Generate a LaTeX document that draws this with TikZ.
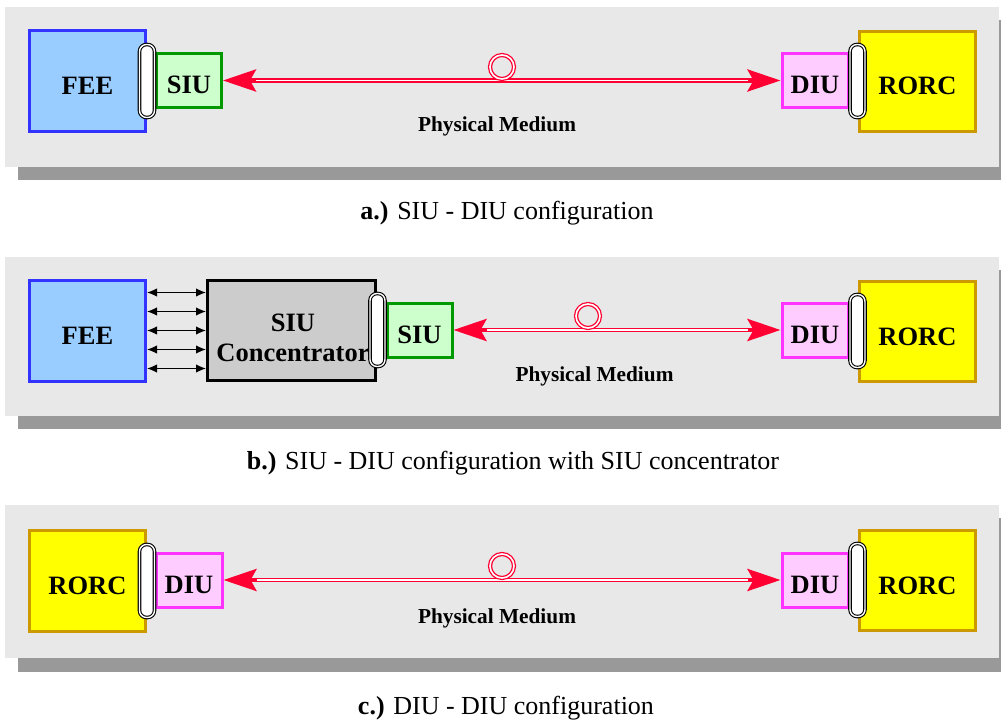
\documentclass[tikz,border=0pt]{standalone}
\usepackage{fontspec}
\setmainfont{Liberation Serif}
\usetikzlibrary{arrows.meta}
\definecolor{bgc}{HTML}{E8E8E8}
\definecolor{shc}{HTML}{999999}
\definecolor{feefill}{HTML}{99CCFF}
\definecolor{feedraw}{HTML}{3333FF}
\definecolor{siufill}{HTML}{CCFFCC}
\definecolor{siudraw}{HTML}{009900}
\definecolor{diufill}{HTML}{FFCCFF}
\definecolor{diudraw}{HTML}{FF33FF}
\definecolor{rorcfill}{HTML}{FFFF00}
\definecolor{rorcdraw}{HTML}{CC9900}
\definecolor{concfill}{HTML}{CCCCCC}
\definecolor{redc}{HTML}{FF0033}
\newcommand\lblfont{\fontsize{26.5}{30}\selectfont\bfseries}
\newcommand\pmfont{\fontsize{21.3}{24}\selectfont\bfseries}
\newcommand\capfont{\fontsize{26}{30}\selectfont}
\tikzset{
  box/.style={draw, line width=3pt, inner sep=0pt, font=\lblfont, align=center,
    text height=27pt, text depth=0pt},
  feebox/.style={box, draw=feedraw, fill=feefill, minimum width=116pt, minimum height=101pt},
  rorcbox/.style={box, draw=rorcdraw, fill=rorcfill, minimum width=116pt, minimum height=100pt},
  siubox/.style={box, draw=siudraw, fill=siufill, minimum width=65pt, minimum height=54pt},
  diubox/.style={box, draw=diudraw, fill=diufill, minimum width=66pt, minimum height=54pt},
  concbox/.style={draw=black, line width=3pt, fill=concfill, minimum width=168pt, minimum height=100pt, inner sep=0pt},
  plug/.style={draw=black, double=white, double distance=1.4pt, line width=1.1pt, fill=white,
    rounded corners=7pt, minimum width=15pt, minimum height=73pt, inner sep=0pt},
  bgpanel/.style={fill=bgc, draw=none},
  shadowpanel/.style={fill=shc, draw=none},
  medium/.style={redc, line width=4.2pt,
    {Stealth[length=33pt,width=22pt,inset=6pt]}-{Stealth[length=33pt,width=22pt,inset=6pt]}},
  mediumcore/.style={white, line width=1.5pt, shorten <=33pt, shorten >=33pt},
  loopc/.style={draw=redc, double=white, double distance=1.6pt, line width=1.3pt},
  pmlabel/.style={font=\pmfont},
  caption/.style={font=\capfont},
  busarrow/.style={black, line width=1.3pt, {Latex[length=10pt,width=8.5pt]}-{Latex[length=10pt,width=8.5pt]}}
}
\begin{document}
\begin{tikzpicture}[x=1pt,y=-1pt]
\useasboundingbox[fill=white] (0,0) rectangle (1001,722);
% ---------- panel a ----------
\fill[shadowpanel] (18,20) rectangle (1001,180);
\fill[bgpanel] (5,7) rectangle (999,167);
\node[feebox] (feeA) at (87.5,81) {FEE};
\node[siubox] (siuA) at (189,80.5) {SIU};
\node[diubox] (diuA) at (815,80.5) {DIU};
\node[rorcbox] (rorcA) at (917.5,81.5) {RORC};
\node[plug] (plugA1) at (147,81) {};
\node[plug] (plugA2) at (857.5,81) {};
\draw[medium] (siuA.east) -- (diuA.west);
\draw[mediumcore] (siuA.east) -- (diuA.west);
\draw[loopc] (502,67) circle (12);
\node[pmlabel] (pmA) at (497,126.5) {Physical Medium};
\node[caption] (capA) at (507,213) {\textbf{a.)} SIU - DIU configuration};
% ---------- panel b ----------
\fill[shadowpanel] (18,270) rectangle (1001,429);
\fill[bgpanel] (5,257) rectangle (999,416);
\node[feebox] (feeB) at (87.5,330.5) {FEE};
\node[concbox] (concB) at (291.5,330.5) {};
\node[font=\lblfont, align=center] (concT) at (293,338) {SIU\\Concentrator};
\node[siubox] (siuB) at (419.5,330) {SIU};
\node[diubox] (diuB) at (815,330) {DIU};
\node[rorcbox] (rorcB) at (917.5,331.5) {RORC};
\node[plug] (plugB1) at (377.5,330) {};
\node[plug] (plugB2) at (857.5,331) {};
\foreach \d in {-38,-19,0,19,38}
  \draw[busarrow] ([yshift=\d pt]feeB.east) -- ([yshift=\d pt]concB.west);
\draw[medium] (siuB.east) -- (diuB.west);
\draw[mediumcore] (siuB.east) -- (diuB.west);
\draw[loopc] (588,316) circle (12);
\node[pmlabel] (pmB) at (594.5,376) {Physical Medium};
\node[caption] (capB) at (513,463) {\textbf{b.)} SIU - DIU configuration with SIU concentrator};
% ---------- panel c ----------
\fill[shadowpanel] (18,518) rectangle (1001,672);
\fill[bgpanel] (5,505) rectangle (999,658);
\node[rorcbox, minimum height=101pt] (rorcC1) at (87.5,581) {RORC};
\node[diubox] (diuC1) at (189,580) {DIU};
\node[diubox] (diuC2) at (815,580) {DIU};
\node[rorcbox] (rorcC2) at (917.5,580.5) {RORC};
\node[plug] (plugC1) at (147,581) {};
\node[plug] (plugC2) at (857.5,580) {};
\draw[medium] (diuC1.east) -- (diuC2.west);
\draw[mediumcore] (diuC1.east) -- (diuC2.west);
\draw[loopc] (502,566) circle (12);
\node[pmlabel] (pmC) at (497,618.5) {Physical Medium};
\node[caption] (capC) at (506,708) {\textbf{c.)} DIU - DIU configuration};
\end{tikzpicture}
\end{document}
